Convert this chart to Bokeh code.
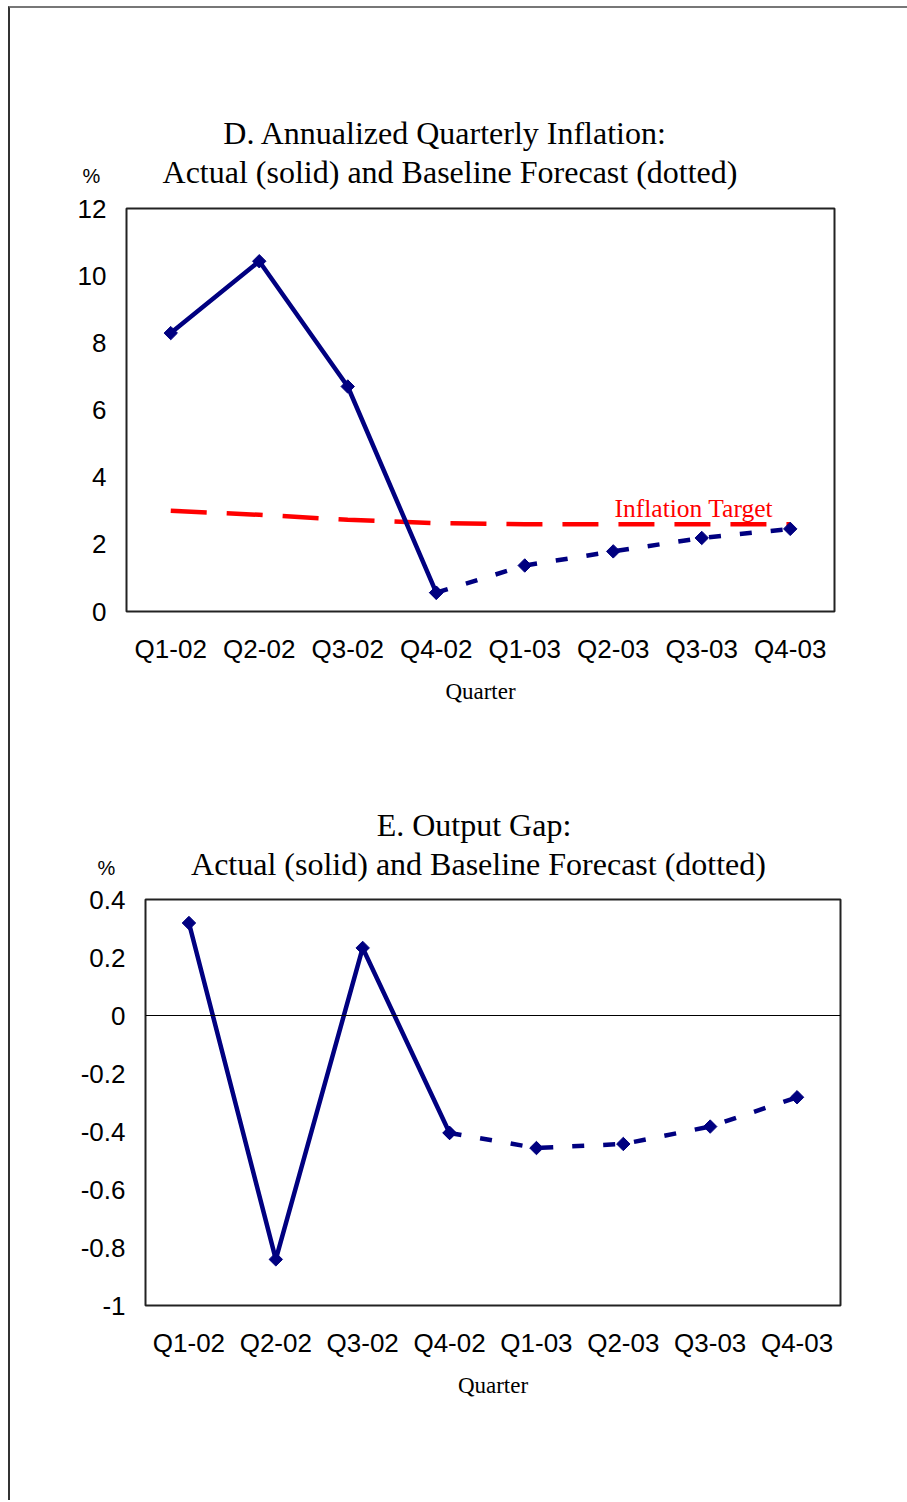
from bokeh.plotting import figure
from bokeh.models import Range1d, FactorRange, Label, Span, FixedTicker, Spacer
from bokeh.layouts import column, row
from bokeh.embed import file_html
from bokeh.resources import INLINE

# ---------------- data ----------------
quarters = ["Q1-02", "Q2-02", "Q3-02", "Q4-02", "Q1-03", "Q2-03", "Q3-03", "Q4-03"]

infl_actual_q = ["Q1-02", "Q2-02", "Q3-02", "Q4-02"]
infl_actual = [8.29, 10.43, 6.70, 0.56]
infl_fcst_q = ["Q4-02", "Q1-03", "Q2-03", "Q3-03", "Q4-03"]
infl_fcst = [0.56, 1.37, 1.79, 2.19, 2.46]
infl_target = [3.0, 2.88, 2.73, 2.63, 2.6, 2.6, 2.6, 2.6]

gap_actual_q = ["Q1-02", "Q2-02", "Q3-02", "Q4-02"]
gap_actual = [0.319, -0.841, 0.233, -0.405]
gap_fcst_q = ["Q4-02", "Q1-03", "Q2-03", "Q3-03", "Q4-03"]
gap_fcst = [-0.405, -0.457, -0.443, -0.383, -0.282]

infl_ticks = [0, 2, 4, 6, 8, 10, 12]
gap_ticks = [-1.0, -0.8, -0.6, -0.4, -0.2, 0.0, 0.2, 0.4]
gap_tick_labels = ["-1", "-0.8", "-0.6", "-0.4", "-0.2", "0", "0.2", "0.4"]

NAVY = "#000080"
RED = "#FF0000"
SERIF = "Liberation Serif"
SANS = "Liberation Sans"


def style(p, ticks, overrides=None):
    p.title.visible = False
    p.xgrid.visible = False
    p.ygrid.visible = False
    p.outline_line_color = "#222222"
    p.outline_line_width = 2
    p.background_fill_color = "white"
    p.border_fill_color = "white"
    for ax in (p.xaxis[0], p.yaxis[0]):
        ax.axis_line_color = None
        ax.major_tick_line_color = None
        ax.minor_tick_line_color = None
        ax.major_tick_out = 0
        ax.major_tick_in = 0
        ax.minor_tick_out = 0
        ax.minor_tick_in = 0
        ax.major_label_text_font = SANS
        ax.major_label_text_font_size = "26px"
        ax.major_label_text_color = "black"
    p.yaxis[0].ticker = FixedTicker(ticks=ticks)
    p.yaxis[0].major_label_standoff = 20
    if overrides:
        p.yaxis[0].major_label_overrides = overrides
    p.xaxis[0].major_label_standoff = 22
    p.xaxis[0].axis_label = "Quarter"
    p.xaxis[0].axis_label_text_font = SERIF
    p.xaxis[0].axis_label_text_font_size = "23px"
    p.xaxis[0].axis_label_text_font_style = "normal"
    p.xaxis[0].axis_label_text_color = "black"
    p.xaxis[0].axis_label_standoff = 12


def add_text(p, text, x, y, size, font=SERIF, color="black"):
    # each label sits in its own panel above the frame (panels stack outward)
    p.add_layout(Label(x=x, y=y, x_units="screen", y_units="screen", text=text,
                       text_font=font, text_font_size=size, text_color=color,
                       text_align="center", text_baseline="middle"), "above")


def series(p, qs, vals, dash):
    p.line(qs, vals, line_color=NAVY, line_width=4.5, line_dash=dash)
    p.scatter(qs, vals, marker="square", angle=0.785, size=9.5,
              fill_color=NAVY, line_color=NAVY)


# ---------------- chart D ----------------
p1 = figure(width=891, height=737, x_range=FactorRange(*quarters, range_padding=0),
            y_range=Range1d(0, 12), output_backend="svg", toolbar_location=None,
            min_border_left=116, min_border_right=67, min_border_top=200,
            min_border_bottom=134)
style(p1, infl_ticks)
p1.line(quarters, infl_target, line_color=RED, line_width=4.5, line_dash="36 20")
series(p1, infl_actual_q, infl_actual, "solid")
series(p1, infl_fcst_q, infl_fcst, "12 19")
p1.add_layout(Label(x=6.41, y=3.07, text="Inflation Target", text_font=SERIF,
                    text_font_size="25.5px", text_color=RED, text_align="center",
                    text_baseline="middle"))
add_text(p1, "D. Annualized Quarterly Inflation:", 319, 76, "32px")
add_text(p1, "Actual (solid) and Baseline Forecast (dotted)", 323.5, 1, "32px")
add_text(p1, "%", -35, -39, "20px", font=SANS)

# ---------------- chart E ----------------
p2 = figure(width=878, height=755, x_range=FactorRange(*quarters, range_padding=0),
            y_range=Range1d(-1, 0.4), output_backend="svg", toolbar_location=None,
            min_border_left=116, min_border_right=67, min_border_top=154,
            min_border_bottom=195)
style(p2, gap_ticks, {t: s for t, s in zip(gap_ticks, gap_tick_labels)})
p2.add_layout(Span(location=0, dimension="width", line_color="black", line_width=1))
series(p2, gap_actual_q, gap_actual, "solid")
series(p2, gap_fcst_q, gap_fcst, "12 19")
add_text(p2, "E. Output Gap:", 328.5, 75, "32px")
add_text(p2, "Actual (solid) and Baseline Forecast (dotted)", 333, 0, "32px")
add_text(p2, "%", -39, -40, "20px", font=SANS)

layout = column(p1, row(Spacer(width=19, height=755), p2), margin=(6, 0, 0, 8),
                styles={"border-top": "2px solid #777777",
                        "border-left": "2px solid #333333"})

open("out.html", "w").write(file_html(layout, INLINE))
